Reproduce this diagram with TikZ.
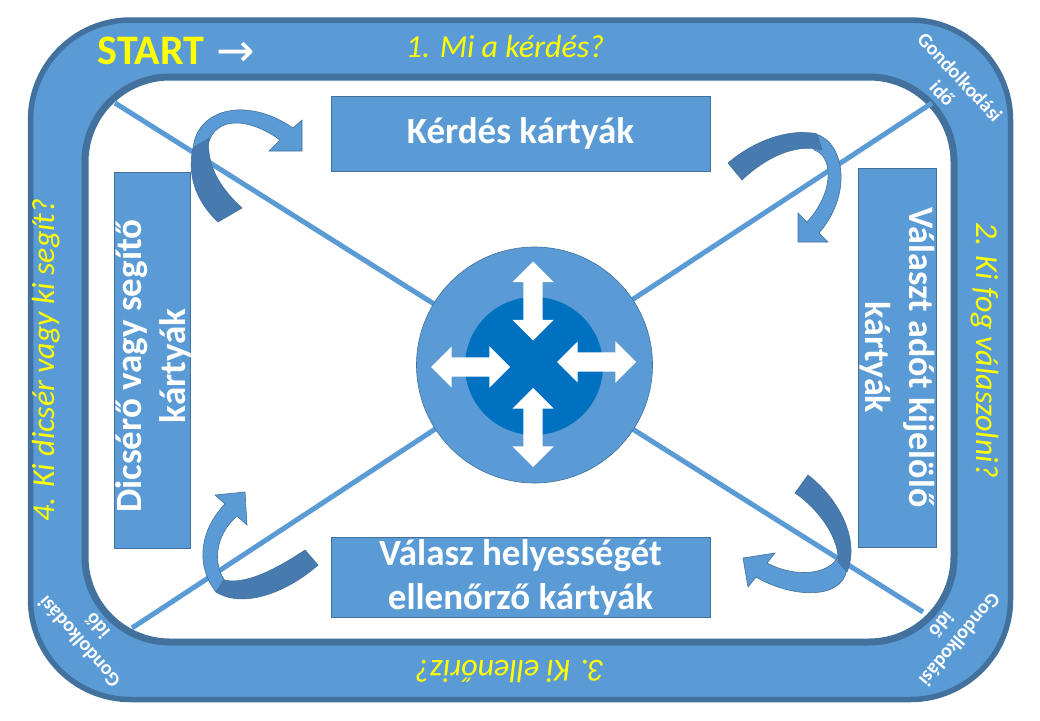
\documentclass[tikz,border=0pt]{standalone}
\usepackage{fontspec}
\setmainfont{Carlito}
\newfontfamily\symfont{DejaVu Sans}
\usetikzlibrary{shapes.arrows}
\definecolor{bandc}{RGB}{91,155,213}
\definecolor{edgec}{RGB}{65,113,156}
\definecolor{hubc}{RGB}{0,112,192}
\definecolor{backc}{RGB}{71,122,174}
\definecolor{questc}{RGB}{255,255,0}
\tikzset{
  band/.style={draw=edgec,line width=5.5pt,fill=bandc,rounded corners=100pt},
  hole/.style={draw=edgec,line width=7pt,fill=white,rounded corners=85pt},
  diag/.style={bandc,line width=5pt},
  card/.style={rectangle,draw=edgec,line width=0.8pt,fill=bandc,inner sep=0pt,text=white,font=\fontsize{37}{44}\selectfont\bfseries,align=center},
  quest/.style={text=questc,font=\fontsize{32}{36}\selectfont\itshape,inner sep=0pt},
  think/.style={text=white,font=\fontsize{20}{24}\selectfont\bfseries,align=center,inner sep=0pt},
  turnf/.style={fill=bandc,draw=edgec,line width=0.6pt},
  turnb/.style={fill=backc,draw=edgec,line width=0.6pt},
  dbl/.style={double arrow,fill=white,inner xsep=0pt,inner ysep=9.5pt,minimum height=79pt,minimum width=41pt,double arrow head extend=11pt},
}
\begin{document}
\begin{tikzpicture}[x=1pt,y=-1pt]
  \useasboundingbox (0,0) rectangle (1040,720);
  % track and playing field
  \draw[band] (30.5,20) rectangle (1010.5,699.5);
  \draw[hole] (85,77) rectangle (954,642);
  \coordinate (ul) at (115,103); \coordinate (lr) at (923,612);
  \coordinate (ur) at (932,103); \coordinate (ll) at (132,628);
  \draw[diag] (ul) -- (lr); \draw[diag] (ur) -- (ll);
  % turning arrows
  \draw[turnf] (193,150) .. controls (195,110) and (245,95) .. (293,128) -- (302,120) -- (302,151) -- (269,151) -- (280,140) .. controls (250,118) and (215,115) .. (208,145) -- cycle;
  \draw[turnb] (193,148) .. controls (186,180) and (200,205) .. (218,222) -- (242,208) .. controls (220,188) and (206,165) .. (209,138) -- cycle;
  \draw[turnf] (810,133) .. controls (842,135) and (856,190) .. (819,233) -- (828,242) -- (798,242) -- (798,213) -- (807,222) .. controls (836,190) and (832,155) .. (814,150) -- cycle;
  \draw[turnb] (728,163) .. controls (755,140) and (790,128) .. (817,134) -- (822,150) .. controls (795,143) and (765,158) .. (742,180) -- cycle;
  \draw[turnf] (847,562) .. controls (850,600) and (795,600) .. (756,577) -- (748,587) -- (743,558) -- (775,553) -- (767,563) .. controls (795,578) and (830,575) .. (838,556) -- cycle;
  \draw[turnb] (795,493) -- (808,475) .. controls (840,500) and (860,540) .. (847,572) -- (838,562) .. controls (840,540) and (820,510) .. (795,493) -- cycle;
  \draw[turnf] (216,592) .. controls (195,565) and (200,530) .. (225,504) -- (215,495) -- (245,492) -- (247,525) -- (237,516) .. controls (215,535) and (212,565) .. (226,582) -- cycle;
  \draw[turnb] (305,550) -- (318,565) .. controls (290,590) and (245,610) .. (216,592) -- (224,580) .. controls (245,585) and (275,570) .. (305,550) -- cycle;
  % cards
  \node[card,minimum width=379pt,minimum height=75pt] (ask) at (520.5,133.5) {Kérdés kártyák};
  \node[card,rotate=-90,minimum width=379pt,minimum height=78pt,font=\fontsize{36}{44}\selectfont\bfseries] (pick) at (897,357.5) {Választ adót kijelölő\\kártyák};
  \node[card,minimum width=379pt,minimum height=80pt] (check) at (520.5,577) {Válasz helyességét\\ellenőrző kártyák};
  \node[card,rotate=90,minimum width=376pt,minimum height=76pt] (praise) at (152,360) {};
  \node[rotate=90,text=white,font=\fontsize{37}{44}\selectfont\bfseries,align=center,inner sep=0pt] (praisetxt) at (153,366) {Dicsérő vagy segítő\\kártyák};
  % hub
  \node[circle,fill=bandc,draw=edgec,line width=0.6pt,minimum size=236pt,inner sep=0pt] (hub) at (534.5,365) {};
  \node[circle,fill=hubc,minimum size=138pt,inner sep=0pt] (core) at (534,366) {};
  \node[dbl,rotate=90] (au) at (533,301) {};
  \node[dbl,rotate=90] (ad) at (533,427.5) {};
  \node[dbl] (al) at (470.5,367) {};
  \node[dbl] (ar) at (596.5,362) {};
  % texts on the track
  \node[text=questc,font=\fontsize{42}{46}\selectfont\bfseries,inner sep=0pt] (start) at (151,51) {START};
  \node[text=white,font=\symfont\fontsize{46}{50}\selectfont,inner sep=0pt] (go) at (236,54) {→};
  \node[quest] (q1) at (505,47) {1. Mi a kérdés?};
  \node[quest,rotate=-90] (q2) at (985,350) {2. Ki fog válaszolni?};
  \node[quest,rotate=180] (q3) at (510,671) {3. Ki ellenőriz?};
  \node[quest,rotate=90] (q4) at (46,360) {4. Ki dicsér vagy ki segít?};
  \node[think,rotate=-47] (t1) at (951.2,85.2) {Gondolkodási\\idő};
  \node[think,rotate=-130] (t2) at (950.8,632.3) {Gondolkodási\\idő};
  \node[think,rotate=131] (t3) at (88.1,634.1) {Gondolkodási\\idő};
\end{tikzpicture}
\end{document}
